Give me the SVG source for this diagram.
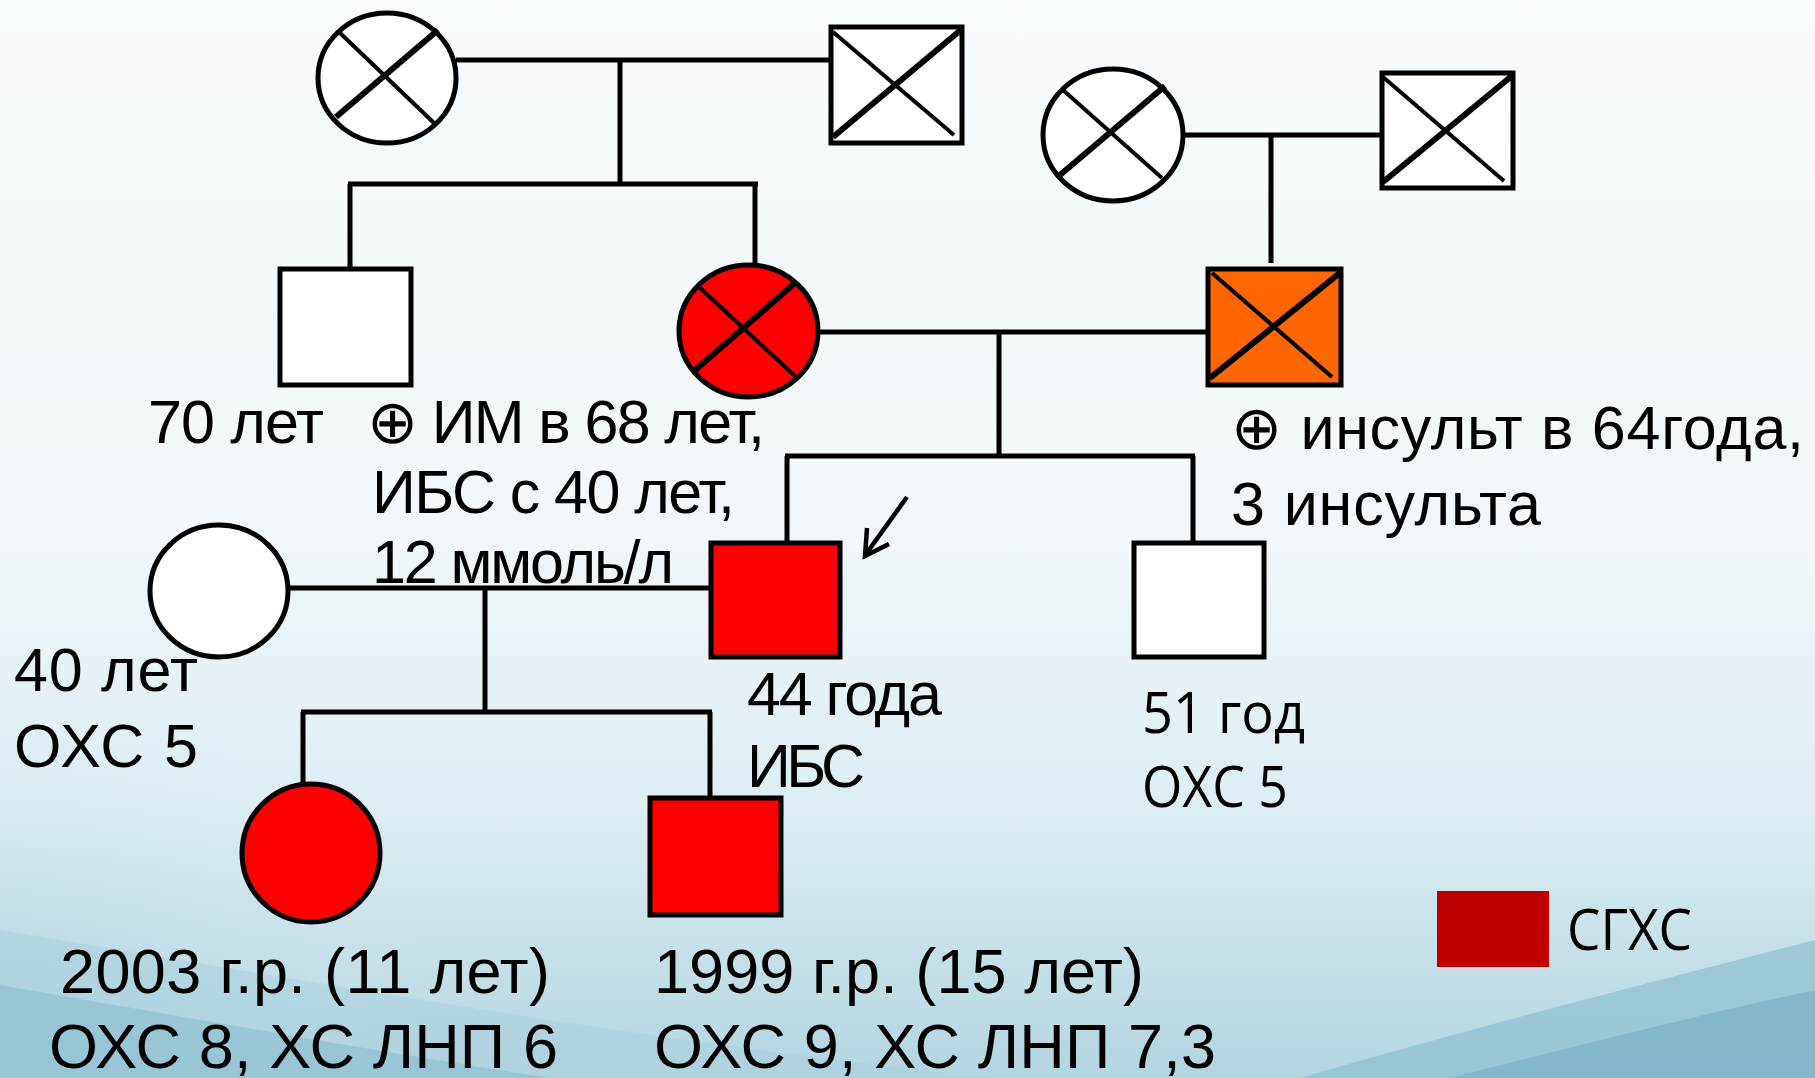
<svg xmlns="http://www.w3.org/2000/svg" width="1815" height="1078" viewBox="0 0 1815 1078">
<defs>
<linearGradient id="bg" x1="0" y1="0" x2="0" y2="1">
<stop offset="0" stop-color="#F7FBFD"/>
<stop offset="0.5" stop-color="#F1F7FA"/>
<stop offset="0.75" stop-color="#DDEDF2"/>
<stop offset="1" stop-color="#B3D5E0"/>
</linearGradient>
<radialGradient id="lf" cx="0" cy="1" r="0.9">
<stop offset="0" stop-color="#A8CFDB" stop-opacity="0.8"/>
<stop offset="1" stop-color="#D3E8EF" stop-opacity="0"/>
</radialGradient>
<style>
.ln{stroke:#000;stroke-width:5;fill:none;stroke-linecap:butt}
.sh{stroke:#000;stroke-width:5}
.x1{stroke:#000;stroke-width:4}
.x2{stroke:#000;stroke-width:6}
.t{font-family:"Liberation Sans",Arial,Helvetica,sans-serif;font-size:61px;fill:#000}
.tb{font-family:"Liberation Sans",Arial,Helvetica,sans-serif;font-size:63px;fill:#000}
.c{font-family:"Open Sans","Noto Sans",sans-serif;font-size:56px;fill:#000}
</style>
</defs>
<rect width="1815" height="1078" fill="url(#bg)"/>
<rect x="0" y="650" width="500" height="428" fill="url(#lf)"/>
<path d="M0 930 C300 980 700 1050 1000 1078 L0 1078 Z" fill="#A9D0DC" opacity="0.55"/>
<path d="M0 985 C200 1020 400 1055 550 1078 L0 1078 Z" fill="#8FC0D0" opacity="0.7"/>
<path d="M1300 1078 C1500 1020 1700 970 1815 940 L1815 1078 Z" fill="#8CBFD0" opacity="0.7"/>
<path d="M1450 1078 C1600 1040 1720 1010 1815 990 L1815 1078 Z" fill="#7DB4C6" opacity="0.8"/>

<g id="connectors">
<line class="ln" x1="456" y1="60" x2="831" y2="60"/>
<line class="ln" x1="620" y1="60" x2="620" y2="184"/>
<line class="ln" x1="348" y1="184" x2="758" y2="184"/>
<line class="ln" x1="350" y1="184" x2="350" y2="269"/>
<line class="ln" x1="755" y1="184" x2="755" y2="265"/>
<line class="ln" x1="1183" y1="135" x2="1382" y2="135"/>
<line class="ln" x1="1271" y1="135" x2="1271" y2="263"/>
<line class="ln" x1="818" y1="332" x2="1208" y2="332"/>
<line class="ln" x1="999" y1="332" x2="999" y2="456"/>
<line class="ln" x1="785" y1="456" x2="1195" y2="456"/>
<line class="ln" x1="787" y1="456" x2="787" y2="543"/>
<line class="ln" x1="1193" y1="456" x2="1193" y2="543"/>
<line class="ln" x1="288" y1="588" x2="711" y2="588"/>
<line class="ln" x1="485" y1="588" x2="485" y2="712"/>
<line class="ln" x1="301" y1="712" x2="712" y2="712"/>
<line class="ln" x1="303" y1="712" x2="303" y2="783"/>
<line class="ln" x1="710" y1="712" x2="710" y2="798"/>
<g id="proband-arrow" stroke="#000" stroke-width="4.5" fill="none">
<line x1="907" y1="497" x2="866" y2="554"/>
<polyline points="867,528 865,556 889,544"/>
</g>
</g>

<g id="gm-paternal">
<ellipse class="sh" cx="387" cy="78" rx="69" ry="65" fill="#fff"/>
<line class="x1" x1="339" y1="32" x2="434" y2="123"/>
<line class="x2" x1="336" y1="117" x2="438" y2="30"/>
</g>
<g id="gf-paternal">
<rect class="sh" x="831" y="27" width="131" height="116" fill="#fff"/>
<line class="x1" x1="833" y1="32" x2="954" y2="135"/>
<line class="x2" x1="833" y1="137" x2="962" y2="29"/>
</g>
<g id="gm-maternal">
<ellipse class="sh" cx="1113" cy="135" rx="70" ry="66" fill="#fff"/>
<line class="x1" x1="1063" y1="90" x2="1162" y2="178"/>
<line class="x2" x1="1060" y1="175" x2="1165" y2="86"/>
</g>
<g id="gf-maternal">
<rect class="sh" x="1382" y="73" width="131" height="115" fill="#fff"/>
<line class="x1" x1="1383" y1="77" x2="1504" y2="181"/>
<line class="x2" x1="1383" y1="182" x2="1513" y2="75"/>
</g>
<g id="uncle">
<rect class="sh" x="280" y="269" width="131" height="116" fill="#fff"/>
<text class="t" x="148" y="443" textLength="176">70 лет</text>
</g>
<g id="mother">
<ellipse class="sh" cx="748.5" cy="331" rx="69.5" ry="66" fill="#FF0000"/>
<line class="x1" x1="699" y1="287" x2="796" y2="377"/>
<line class="x2" x1="693" y1="372" x2="796" y2="282"/>
<text class="t" x="367" y="443" textLength="398">⊕ ИМ в 68 лет,</text>
<text class="t" x="372" y="513" textLength="363">ИБС с 40 лет,</text>
<text class="t" x="372" y="583" textLength="302">12 ммоль/л</text>
</g>
<g id="father">
<rect class="sh" x="1208" y="269" width="133" height="116" fill="#FF6600"/>
<line class="x1" x1="1212" y1="273" x2="1332" y2="377"/>
<line class="x2" x1="1210" y1="378" x2="1341" y2="272"/>
<text class="t" x="1231" y="449" textLength="573">⊕ инсульт в 64года,</text>
<text class="t" x="1231" y="525" textLength="310">3 инсульта</text>
</g>
<g id="wife">
<ellipse class="sh" cx="219" cy="591" rx="69" ry="66" fill="#fff"/>
<text class="t" x="14" y="691" textLength="184">40 лет</text>
<text class="t" x="14" y="767" textLength="184">ОХС 5</text>
</g>
<g id="proband">
<rect class="sh" x="711" y="543" width="129" height="114" fill="#FF0000"/>
<text class="t" x="747" y="715" textLength="195">44 года</text>
<text class="t" x="747" y="787" textLength="118">ИБС</text>
</g>
<g id="brother">
<rect class="sh" x="1134" y="543" width="130" height="114" fill="#fff"/>
<text class="c" x="1142" y="733" textLength="163" lengthAdjust="spacingAndGlyphs">51 год</text>
<text class="c" x="1142" y="807" textLength="146" lengthAdjust="spacingAndGlyphs">ОХС 5</text>
</g>
<g id="daughter">
<ellipse class="sh" cx="311" cy="853" rx="69" ry="69" fill="#FF0000"/>
<text class="tb" x="60" y="993" textLength="490">2003 г.р. (11 лет)</text>
<text class="tb" x="49" y="1068" textLength="509">ОХС 8, ХС ЛНП 6</text>
</g>
<g id="son">
<rect class="sh" x="650" y="798" width="131" height="117" fill="#FF0000"/>
<text class="tb" x="654" y="993" textLength="490">1999 г.р. (15 лет)</text>
<text class="tb" x="654" y="1068" textLength="562">ОХС 9, ХС ЛНП 7,3</text>
</g>
<g id="legend">
<rect x="1437" y="891" width="112" height="76" fill="#C00000"/>
<text class="c" x="1567" y="950" textLength="125" lengthAdjust="spacingAndGlyphs">СГХС</text>
</g>
</svg>
